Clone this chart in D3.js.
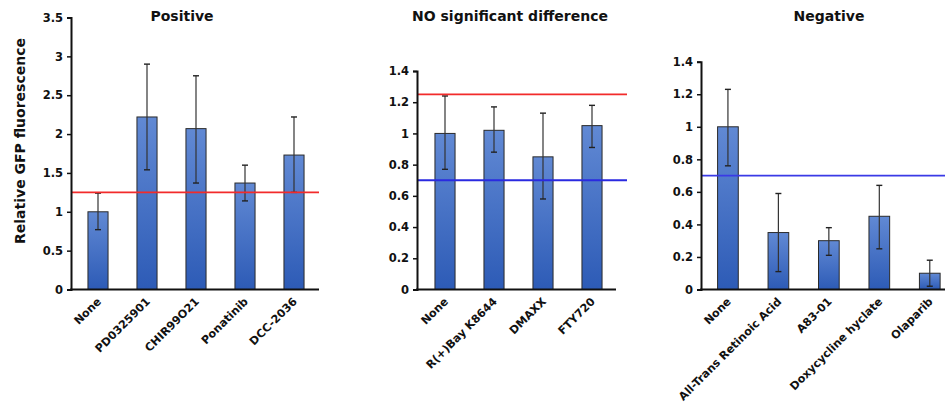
<!DOCTYPE html>
<html>
<head>
<meta charset="utf-8">
<script src="https://cdn.jsdelivr.net/npm/d3@7"></script>
<style>
  html, body { margin: 0; padding: 0; background: #fff; }
  svg { display: block; font-family: "DejaVu Sans", "Liberation Sans", Arial, sans-serif; }
</style>
</head>
<body>
<svg id="chart" width="945" height="404"></svg>
<script>
// Relative GFP fluorescence per compound, mean with lower/upper error bounds
const positiveLabels = ["None", "PD0325901", "CHIR99O21", "Ponatinib", "DCC-2036"];
const positiveValues = [1.0, 2.22, 2.07, 1.37, 1.73];
const positiveLow    = [0.77, 1.54, 1.37, 1.14, 1.25];
const positiveHigh   = [1.24, 2.90, 2.75, 1.60, 2.22];

const neutralLabels = ["None", "R(+)Bay K8644", "DMAXX", "FTY720"];
const neutralValues = [1.0, 1.02, 0.85, 1.05];
const neutralLow    = [0.77, 0.88, 0.58, 0.91];
const neutralHigh   = [1.24, 1.17, 1.13, 1.18];

const negativeLabels = ["None", "All-Trans Retinoic Acid", "A83-01", "Doxycycline hyclate", "Olaparib"];
const negativeValues = [1.0, 0.35, 0.30, 0.45, 0.10];
const negativeLow    = [0.76, 0.11, 0.21, 0.25, 0.02];
const negativeHigh   = [1.23, 0.59, 0.38, 0.64, 0.18];

const positiveTicks = [0, 0.5, 1, 1.5, 2, 2.5, 3, 3.5];
const smallTicks = [0, 0.2, 0.4, 0.6, 0.8, 1, 1.2, 1.4];

// Threshold levels: upper (red) and lower (blue)
const upperThreshold = 1.25;
const lowerThreshold = 0.70;

const svg = d3.select("#chart");

const defs = svg.append("defs");
const grad = defs.append("linearGradient")
  .attr("id", "barFill").attr("x1", 0).attr("y1", 0).attr("x2", 0).attr("y2", 1);
grad.append("stop").attr("offset", "0%").attr("stop-color", "#6189d4");
grad.append("stop").attr("offset", "100%").attr("stop-color", "#2d5bb6");

function panel(cfg) {
  const g = svg.append("g");
  const x = d3.scaleBand()
    .domain(cfg.labels)
    .range([cfg.bandStart, cfg.bandEnd])
    .paddingInner(0.59)
    .paddingOuter(0.295);
  const y = d3.scaleLinear()
    .domain([0, d3.max(cfg.ticks)])
    .range([cfg.bottom, cfg.top]);

  const rows = cfg.labels.map((l, i) => ({
    label: l, value: cfg.values[i], low: cfg.low[i], high: cfg.high[i]
  }));

  // bars
  g.selectAll("rect.bar").data(rows).join("rect")
    .attr("class", "bar")
    .attr("x", d => x(d.label))
    .attr("width", x.bandwidth())
    .attr("y", d => y(d.value))
    .attr("height", d => y(0) - y(d.value))
    .attr("fill", "url(#barFill)")
    .attr("stroke", "#2a2a2a")
    .attr("stroke-width", 1);

  // error bars
  const eb = g.selectAll("g.err").data(rows).join("g").attr("class", "err")
    .attr("transform", d => `translate(${x(d.label) + x.bandwidth() / 2},0)`);
  eb.append("line")
    .attr("y1", d => y(d.low)).attr("y2", d => y(d.high))
    .attr("stroke", "#333").attr("stroke-width", 1.2);
  eb.append("line")
    .attr("x1", -3).attr("x2", 3)
    .attr("y1", d => y(d.low)).attr("y2", d => y(d.low))
    .attr("stroke", "#222").attr("stroke-width", 1.4);
  eb.append("line")
    .attr("x1", -3).attr("x2", 3)
    .attr("y1", d => y(d.high)).attr("y2", d => y(d.high))
    .attr("stroke", "#222").attr("stroke-width", 1.4);

  // threshold lines
  cfg.thresholds.forEach(t => {
    g.append("line")
      .attr("x1", cfg.axisX).attr("x2", cfg.lineEnd)
      .attr("y1", y(t.value)).attr("y2", y(t.value))
      .attr("stroke", t.color).attr("stroke-width", 1.8);
  });

  // y axis
  const yAxis = g.append("g")
    .attr("transform", `translate(${cfg.axisX},0)`)
    .call(d3.axisLeft(y).tickValues(cfg.ticks).tickSize(4).tickSizeOuter(4)
      .tickFormat(d => String(d)));
  yAxis.select(".domain").attr("stroke", "#111").attr("stroke-width", 2);
  yAxis.selectAll(".tick line").attr("stroke", "#111").attr("stroke-width", 1.5);
  yAxis.selectAll(".tick text")
    .attr("x", -8)
    .attr("fill", "#111")
    .style("font-family", "'DejaVu Sans', sans-serif")
    .style("font-size", "11.5px")
    .style("font-weight", "bold");

  // x baseline
  g.append("line")
    .attr("x1", cfg.axisX - 1).attr("x2", cfg.baseEnd)
    .attr("y1", y(0)).attr("y2", y(0))
    .attr("stroke", "#111").attr("stroke-width", 2);

  // category labels
  g.selectAll("text.cat").data(rows).join("text")
    .attr("class", "cat")
    .attr("transform", d => `translate(${x(d.label) + x.bandwidth() / 2 + 1},${y(0) + 10}) rotate(-45)`)
    .attr("text-anchor", "end")
    .attr("dy", "0.35em")
    .attr("fill", "#111")
    .style("font-size", "11.2px")
    .style("font-weight", "bold")
    .text(d => d.label);

  // title
  g.append("text")
    .attr("x", cfg.titleX).attr("y", 21)
    .attr("text-anchor", "middle")
    .attr("fill", "#111")
    .style("font-size", "14px")
    .style("font-weight", "bold")
    .text(cfg.title);
}

panel({
  title: "Positive", titleX: 182,
  labels: positiveLabels, values: positiveValues, low: positiveLow, high: positiveHigh,
  ticks: positiveTicks, top: 17.5, bottom: 289.5,
  axisX: 71, bandStart: 73.5, bandEnd: 318.5, baseEnd: 319, lineEnd: 319,
  thresholds: [{ value: upperThreshold, color: "#f22b2b" }]
});

panel({
  title: "NO significant difference", titleX: 510,
  labels: neutralLabels, values: neutralValues, low: neutralLow, high: neutralHigh,
  ticks: smallTicks, top: 71, bottom: 289.5,
  axisX: 417, bandStart: 420.5, bandEnd: 616.5, baseEnd: 616, lineEnd: 627,
  thresholds: [
    { value: upperThreshold, color: "#f22b2b" },
    { value: lowerThreshold, color: "#2a2ae0" }
  ]
});

panel({
  title: "Negative", titleX: 829,
  labels: negativeLabels, values: negativeValues, low: negativeLow, high: negativeHigh,
  ticks: smallTicks, top: 61.7, bottom: 289.5,
  axisX: 701, bandStart: 702.7, bandEnd: 955, baseEnd: 945, lineEnd: 945,
  thresholds: [{ value: lowerThreshold, color: "#3a3ae6" }]
});

// shared y-axis title
svg.append("text")
  .attr("transform", "translate(25,141) rotate(-90)")
  .attr("text-anchor", "middle")
  .attr("fill", "#111")
  .style("font-size", "14px")
  .style("font-weight", "bold")
  .text("Relative GFP fluorescence");
</script>
</body>
</html>
